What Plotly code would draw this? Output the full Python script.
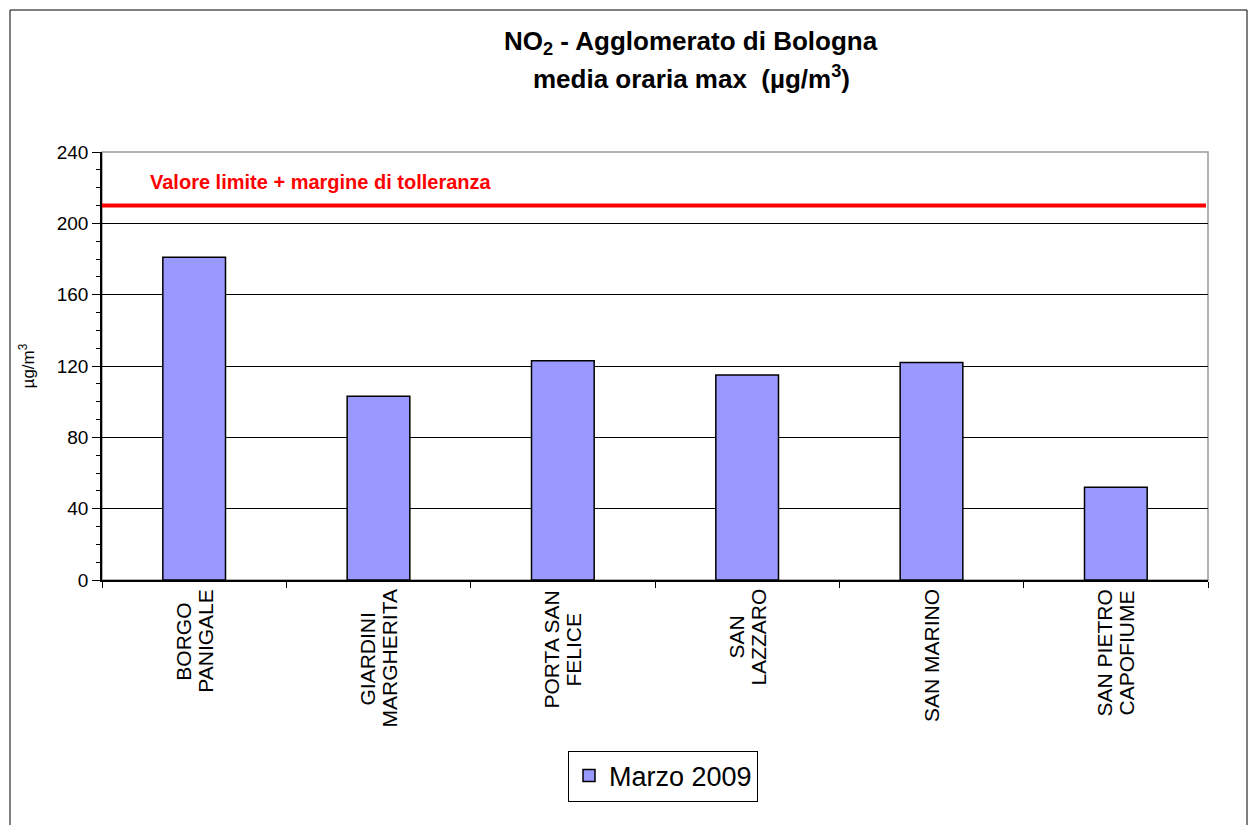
import plotly.graph_objects as go

stations = [["BORGO", "PANIGALE"], ["GIARDINI", "MARGHERITA"], ["PORTA SAN", "FELICE"],
            ["SAN", "LAZZARO"], ["SAN MARINO"], ["SAN PIETRO", "CAPOFIUME"]]
values_marzo_2009 = [181, 103, 123, 115, 122, 52]
limit_value = 210
limit_label = "Valore limite + margine di tolleranza"
series_name = "Marzo 2009"
y_ticks = [0, 40, 80, 120, 160, 200, 240]

FONT = "Liberation Sans, Arial, sans-serif"
LABEL_SIZE = 21

# approximate Arial glyph advance widths (em) used only to centre the rotated label lines
GLYPH_W = {"A": .667, "B": .667, "C": .722, "D": .722, "E": .667, "F": .611, "G": .778,
           "H": .722, "I": .278, "L": .556, "M": .833, "N": .722, "O": .778, "P": .667,
           "R": .722, "S": .667, "T": .611, "U": .722, "Z": .611, " ": .278}


def text_len(s, size):
    return sum(GLYPH_W.get(c, .65) for c in s) * size


# page-pixel helpers (plot area spans x 102..1208, y 152..580 on the page)
def px(x):
    return (x - 102) / 1106


def py(y):
    return (580 - y) / 428


xs = list(range(len(stations)))

fig = go.Figure()
fig.add_trace(go.Bar(
    x=xs, y=values_marzo_2009, name=series_name,
    marker=dict(color="#9999FF", line=dict(color="black", width=1.5)),
    width=0.34, showlegend=True,
))

fig.add_shape(type="line", xref="paper", yref="y", x0=0, x1=px(1206),
              y0=limit_value, y1=limit_value, line=dict(color="#FF0000", width=4))
fig.add_annotation(xref="paper", yref="y", x=px(148), y=223, xanchor="left", yanchor="middle",
                   text="<b>" + limit_label + "</b>", showarrow=False,
                   font=dict(family=FONT, size=20, color="#FF0000"))

# title
fig.add_annotation(xref="paper", yref="paper", x=px(691), y=py(43),
                   xanchor="center", yanchor="middle", showarrow=False,
                   text="<b>NO<sub>2</sub> - Agglomerato di Bologna</b>",
                   font=dict(family=FONT, size=26, color="black"))
fig.add_annotation(xref="paper", yref="paper", x=px(691), y=py(78),
                   xanchor="center", yanchor="middle", showarrow=False,
                   text="<b>media oraria max  (µg/m<sup>3</sup>)</b>",
                   font=dict(family=FONT, size=26, color="black"))

# category labels (rotated, centre-aligned lines)
for i, lines in enumerate(stations):
    n = len(lines)
    block = max(text_len(l, LABEL_SIZE) for l in lines)
    centre_y = 589 + block / 2
    for j, line in enumerate(lines):
        fig.add_annotation(xref="x", yref="paper", x=xs[i], y=py(centre_y),
                           xanchor="center", yanchor="middle", textangle=-90,
                           xshift=(j - (n - 1) / 2) * 22, showarrow=False,
                           text=line, font=dict(family=FONT, size=LABEL_SIZE, color="black"))

# outer chart border
fig.add_shape(type="rect", xref="paper", yref="paper",
              x0=px(10), x1=px(1247), y0=py(840), y1=py(10),
              line=dict(color="black", width=1), fillcolor="rgba(0,0,0,0)", layer="below")

# gray plot-area border (top/right)
fig.add_shape(type="rect", xref="paper", yref="paper", x0=0, x1=1, y0=0, y1=1,
              line=dict(color="#999999", width=1.5), fillcolor="rgba(0,0,0,0)", layer="below")

# page body has an 8px margin: shift the figure to compensate
fig.update_layout(
    width=1251, height=817,
    margin=dict(l=94, r=51, t=144, b=245, autoexpand=False),
    paper_bgcolor="white", plot_bgcolor="white",
    font=dict(family=FONT, size=16, color="black"),
    showlegend=True,
    legend=dict(x=px(663), y=py(776), xanchor="center", yanchor="middle",
                bordercolor="black", borderwidth=1, bgcolor="white",
                font=dict(family=FONT, size=27, color="black"),
                itemwidth=30),
    bargap=0.66,
)

fig.update_xaxes(
    range=[-0.5, len(stations) - 0.5],
    showticklabels=False, ticks="", showgrid=False,
    showline=True, linecolor="black", linewidth=1.5,
    minor=dict(tickmode="array", tickvals=[i + 0.5 for i in range(-1, len(stations))],
               ticks="outside", ticklen=6, tickcolor="black", showgrid=False),
)
fig.update_yaxes(
    range=[0, 240], tickmode="array", tickvals=y_ticks,
    ticks="outside", ticklen=8, tickcolor="black",
    showgrid=True, gridcolor="black", gridwidth=1,
    showline=True, linecolor="black", linewidth=1.5,
    zeroline=False,
    tickfont=dict(family=FONT, size=19),
    title=dict(text="µg/m<sup>3</sup>", font=dict(family=FONT, size=17), standoff=18),
    minor=dict(dtick=10, ticks="outside", ticklen=4, tickcolor="black", showgrid=False),
)

fig.write_html("out.html")
